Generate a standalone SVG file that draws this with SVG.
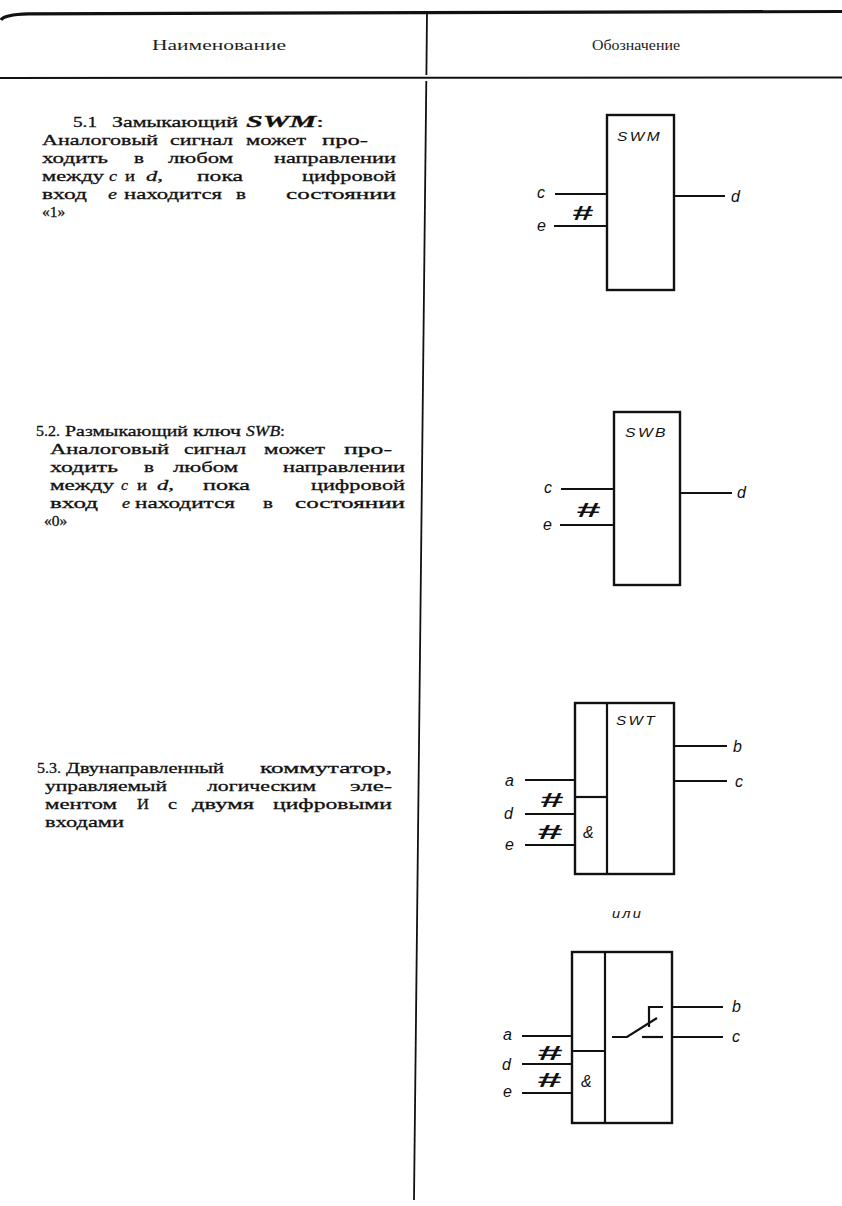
<svg xmlns="http://www.w3.org/2000/svg" width="842" height="1206" viewBox="0 0 842 1206">
<defs>
<style>
.t{font-family:"Liberation Serif","Times New Roman",serif;font-size:15.5px;fill:#111;stroke:#111;stroke-width:0.3}
.h{font-family:"Liberation Serif","Times New Roman",serif;font-size:14px;fill:#222}
.i{font-style:italic}
.lbl{font-family:"Liberation Sans",Arial,sans-serif;font-style:italic;font-size:16px;fill:#111}
.nm{font-family:"Liberation Sans",Arial,sans-serif;font-style:italic;font-size:13px;letter-spacing:2px;fill:#111}
.hash{font-family:"Liberation Sans",Arial,sans-serif;font-weight:bold;font-style:italic;font-size:21px;fill:#111}
.box{fill:none;stroke:#111;stroke-width:2.4}
.w{fill:none;stroke:#111;stroke-width:2.2;stroke-linecap:butt}
.rule{fill:none;stroke:#111}
</style>
</defs>
<rect width="842" height="1206" fill="#fff"/>

<g id="table">
<path class="rule" d="M1,20 Q4,14.5 28,13.8 L842,11.5" stroke-width="3.2"/>
<line class="rule" x1="0" y1="78" x2="842" y2="77.5" stroke-width="2"/>
<line class="rule" x1="427" y1="13" x2="426.4" y2="75" stroke-width="1.8"/>
<line class="rule" x1="426.3" y1="81" x2="414" y2="1200" stroke-width="1.8"/>
<text class="h" x="152" y="50" textLength="134" lengthAdjust="spacingAndGlyphs">Наименование</text>
<text class="h" x="592" y="50" textLength="88" lengthAdjust="spacingAndGlyphs">Обозначение</text>
</g>

<g id="text-5-1" class="t">
<text x="73" y="127" textLength="24" lengthAdjust="spacingAndGlyphs">5.1</text>
<text x="112" y="127" textLength="126" lengthAdjust="spacingAndGlyphs">Замыкающий</text>
<text x="246" y="127" textLength="78" lengthAdjust="spacingAndGlyphs"><tspan font-weight="bold" font-style="italic" font-size="17">SWM</tspan>:</text>
<text x="42" y="145" textLength="116" lengthAdjust="spacingAndGlyphs">Аналоговый</text>
<text x="170" y="145" textLength="63" lengthAdjust="spacingAndGlyphs">сигнал</text>
<text x="246" y="145" textLength="60" lengthAdjust="spacingAndGlyphs">может</text>
<text x="322" y="145" textLength="46" lengthAdjust="spacingAndGlyphs">про-</text>
<text x="42" y="163" textLength="66" lengthAdjust="spacingAndGlyphs">ходить</text>
<text x="134" y="163" textLength="10" lengthAdjust="spacingAndGlyphs">в</text>
<text x="168" y="163" textLength="65" lengthAdjust="spacingAndGlyphs">любом</text>
<text x="274" y="163" textLength="122" lengthAdjust="spacingAndGlyphs">направлении</text>
<text x="42" y="181" textLength="62" lengthAdjust="spacingAndGlyphs">между</text>
<text class="i" x="109" y="181" textLength="8" lengthAdjust="spacingAndGlyphs">c</text>
<text x="125" y="181" textLength="10" lengthAdjust="spacingAndGlyphs">и</text>
<text x="146" y="181" textLength="17" lengthAdjust="spacingAndGlyphs"><tspan class="i">d</tspan>,</text>
<text x="197" y="181" textLength="46" lengthAdjust="spacingAndGlyphs">пока</text>
<text x="302" y="181" textLength="94" lengthAdjust="spacingAndGlyphs">цифровой</text>
<text x="42" y="199" textLength="45" lengthAdjust="spacingAndGlyphs">вход</text>
<text class="i" x="108" y="199" textLength="9" lengthAdjust="spacingAndGlyphs">e</text>
<text x="124" y="199" textLength="98" lengthAdjust="spacingAndGlyphs">находится</text>
<text x="236" y="199" textLength="10" lengthAdjust="spacingAndGlyphs">в</text>
<text x="286" y="199" textLength="110" lengthAdjust="spacingAndGlyphs">состоянии</text>
<text x="42" y="217">«1»</text>
</g>

<g id="text-5-2" class="t">
<text x="36" y="436" textLength="24" lengthAdjust="spacingAndGlyphs">5.2.</text>
<text x="65" y="436" textLength="123" lengthAdjust="spacingAndGlyphs">Размыкающий</text>
<text x="193" y="436" textLength="48" lengthAdjust="spacingAndGlyphs">ключ</text>
<text x="246" y="436" textLength="39" lengthAdjust="spacingAndGlyphs"><tspan class="i">SWB</tspan>:</text>
<text x="50" y="454" textLength="119" lengthAdjust="spacingAndGlyphs">Аналоговый</text>
<text x="184" y="454" textLength="62" lengthAdjust="spacingAndGlyphs">сигнал</text>
<text x="264" y="454" textLength="61" lengthAdjust="spacingAndGlyphs">может</text>
<text x="344" y="454" textLength="48" lengthAdjust="spacingAndGlyphs">про-</text>
<text x="50" y="472" textLength="68" lengthAdjust="spacingAndGlyphs">ходить</text>
<text x="144" y="472" textLength="10" lengthAdjust="spacingAndGlyphs">в</text>
<text x="173" y="472" textLength="65" lengthAdjust="spacingAndGlyphs">любом</text>
<text x="283" y="472" textLength="122" lengthAdjust="spacingAndGlyphs">направлении</text>
<text x="50" y="490" textLength="64" lengthAdjust="spacingAndGlyphs">между</text>
<text class="i" x="121" y="490" textLength="7" lengthAdjust="spacingAndGlyphs">c</text>
<text x="137" y="490" textLength="10" lengthAdjust="spacingAndGlyphs">и</text>
<text x="157" y="490" textLength="17" lengthAdjust="spacingAndGlyphs"><tspan class="i">d</tspan>,</text>
<text x="203" y="490" textLength="47" lengthAdjust="spacingAndGlyphs">пока</text>
<text x="311" y="490" textLength="94" lengthAdjust="spacingAndGlyphs">цифровой</text>
<text x="50" y="508" textLength="48" lengthAdjust="spacingAndGlyphs">вход</text>
<text class="i" x="122" y="508" textLength="8" lengthAdjust="spacingAndGlyphs">e</text>
<text x="135" y="508" textLength="100" lengthAdjust="spacingAndGlyphs">находится</text>
<text x="263" y="508" textLength="10" lengthAdjust="spacingAndGlyphs">в</text>
<text x="295" y="508" textLength="110" lengthAdjust="spacingAndGlyphs">состоянии</text>
<text x="44" y="526">«0»</text>
</g>

<g id="text-5-3" class="t">
<text x="37" y="773" textLength="24" lengthAdjust="spacingAndGlyphs">5.3.</text>
<text x="66" y="773" textLength="158" lengthAdjust="spacingAndGlyphs">Двунаправленный</text>
<text x="260" y="773" textLength="132" lengthAdjust="spacingAndGlyphs">коммутатор,</text>
<text x="45" y="791" textLength="122" lengthAdjust="spacingAndGlyphs">управляемый</text>
<text x="207" y="791" textLength="109" lengthAdjust="spacingAndGlyphs">логическим</text>
<text x="350" y="791" textLength="42" lengthAdjust="spacingAndGlyphs">эле-</text>
<text x="45" y="809" textLength="72" lengthAdjust="spacingAndGlyphs">ментом</text>
<text x="137" y="809" textLength="12" lengthAdjust="spacingAndGlyphs">И</text>
<text x="168" y="809" textLength="9" lengthAdjust="spacingAndGlyphs">с</text>
<text x="192" y="809" textLength="62" lengthAdjust="spacingAndGlyphs">двумя</text>
<text x="273" y="809" textLength="119" lengthAdjust="spacingAndGlyphs">цифровыми</text>
<text x="45" y="827" textLength="79" lengthAdjust="spacingAndGlyphs">входами</text>
</g>

<g id="node-swm">
<rect class="box" x="607" y="115" width="67" height="175"/>
<text class="nm" x="617" y="141" textLength="45" lengthAdjust="spacingAndGlyphs">SWM</text>
<text class="lbl" x="537" y="198">c</text>
<text class="lbl" x="537" y="231">e</text>
<text class="lbl" x="731" y="202">d</text>
<text class="hash" x="572" y="220" textLength="21" lengthAdjust="spacingAndGlyphs">#</text>
</g>

<g id="node-swb">
<rect class="box" x="614" y="412" width="66" height="173"/>
<text class="nm" x="625" y="437" textLength="43" lengthAdjust="spacingAndGlyphs">SWB</text>
<text class="lbl" x="544" y="493">c</text>
<text class="lbl" x="543" y="530">e</text>
<text class="lbl" x="737" y="498">d</text>
<text class="hash" x="576" y="517" textLength="24" lengthAdjust="spacingAndGlyphs">#</text>
</g>

<g id="node-swt-1">
<rect class="box" x="575" y="703" width="99" height="171"/>
<line class="w" x1="607" y1="703" x2="607" y2="874"/>
<line class="w" x1="575" y1="797" x2="607" y2="797"/>
<text class="nm" x="616" y="725" textLength="41" lengthAdjust="spacingAndGlyphs">SWT</text>
<text class="lbl" x="583" y="838" font-size="15">&amp;</text>
<text class="lbl" x="505" y="786">a</text>
<text class="lbl" x="504" y="819">d</text>
<text class="lbl" x="505" y="850">e</text>
<text class="lbl" x="733" y="752">b</text>
<text class="lbl" x="735" y="787">c</text>
<text class="hash" x="540" y="807" textLength="23" lengthAdjust="spacingAndGlyphs">#</text>
<text class="hash" x="537" y="839" textLength="25" lengthAdjust="spacingAndGlyphs">#</text>
</g>

<text id="label-or" class="nm" x="612" y="918" font-size="14" textLength="31" lengthAdjust="spacingAndGlyphs">или</text>

<g id="node-swt-2">
<rect class="box" x="572" y="952" width="100" height="171"/>
<line class="w" x1="605" y1="952" x2="605" y2="1123"/>
<line class="w" x1="572" y1="1051" x2="605" y2="1051"/>
<text class="lbl" x="581" y="1087" font-size="15">&amp;</text>
<path class="w" d="M612,1037 H627 L657,1018"/>
<path class="w" d="M663,1007 H649 V1027"/>
<path class="w" d="M642,1037 H663"/>
<text class="lbl" x="503" y="1040">a</text>
<text class="lbl" x="502" y="1070">d</text>
<text class="lbl" x="503" y="1097">e</text>
<text class="lbl" x="732" y="1012">b</text>
<text class="lbl" x="732" y="1042">c</text>
<text class="hash" x="537" y="1060" font-size="19" textLength="25" lengthAdjust="spacingAndGlyphs">#</text>
<text class="hash" x="537" y="1087" font-size="19" textLength="24" lengthAdjust="spacingAndGlyphs">#</text>
</g>

<g id="connectors">
<line class="w" x1="555" y1="194" x2="607" y2="194"/>
<line class="w" x1="554" y1="226" x2="607" y2="226"/>
<line class="w" x1="674" y1="196" x2="725" y2="196"/>
<line class="w" x1="561" y1="489" x2="614" y2="489"/>
<line class="w" x1="560" y1="525" x2="614" y2="525"/>
<line class="w" x1="680" y1="493" x2="732" y2="493"/>
<line class="w" x1="525" y1="780" x2="575" y2="780"/>
<line class="w" x1="525" y1="814" x2="575" y2="814"/>
<line class="w" x1="525" y1="845" x2="575" y2="845"/>
<line class="w" x1="674" y1="746" x2="727" y2="746"/>
<line class="w" x1="674" y1="781" x2="727" y2="781"/>
<line class="w" x1="522" y1="1036" x2="572" y2="1036"/>
<line class="w" x1="522" y1="1064" x2="572" y2="1064"/>
<line class="w" x1="522" y1="1093" x2="572" y2="1093"/>
<line class="w" x1="672" y1="1007" x2="723" y2="1007"/>
<line class="w" x1="672" y1="1037" x2="723" y2="1037"/>
</g>
</svg>
